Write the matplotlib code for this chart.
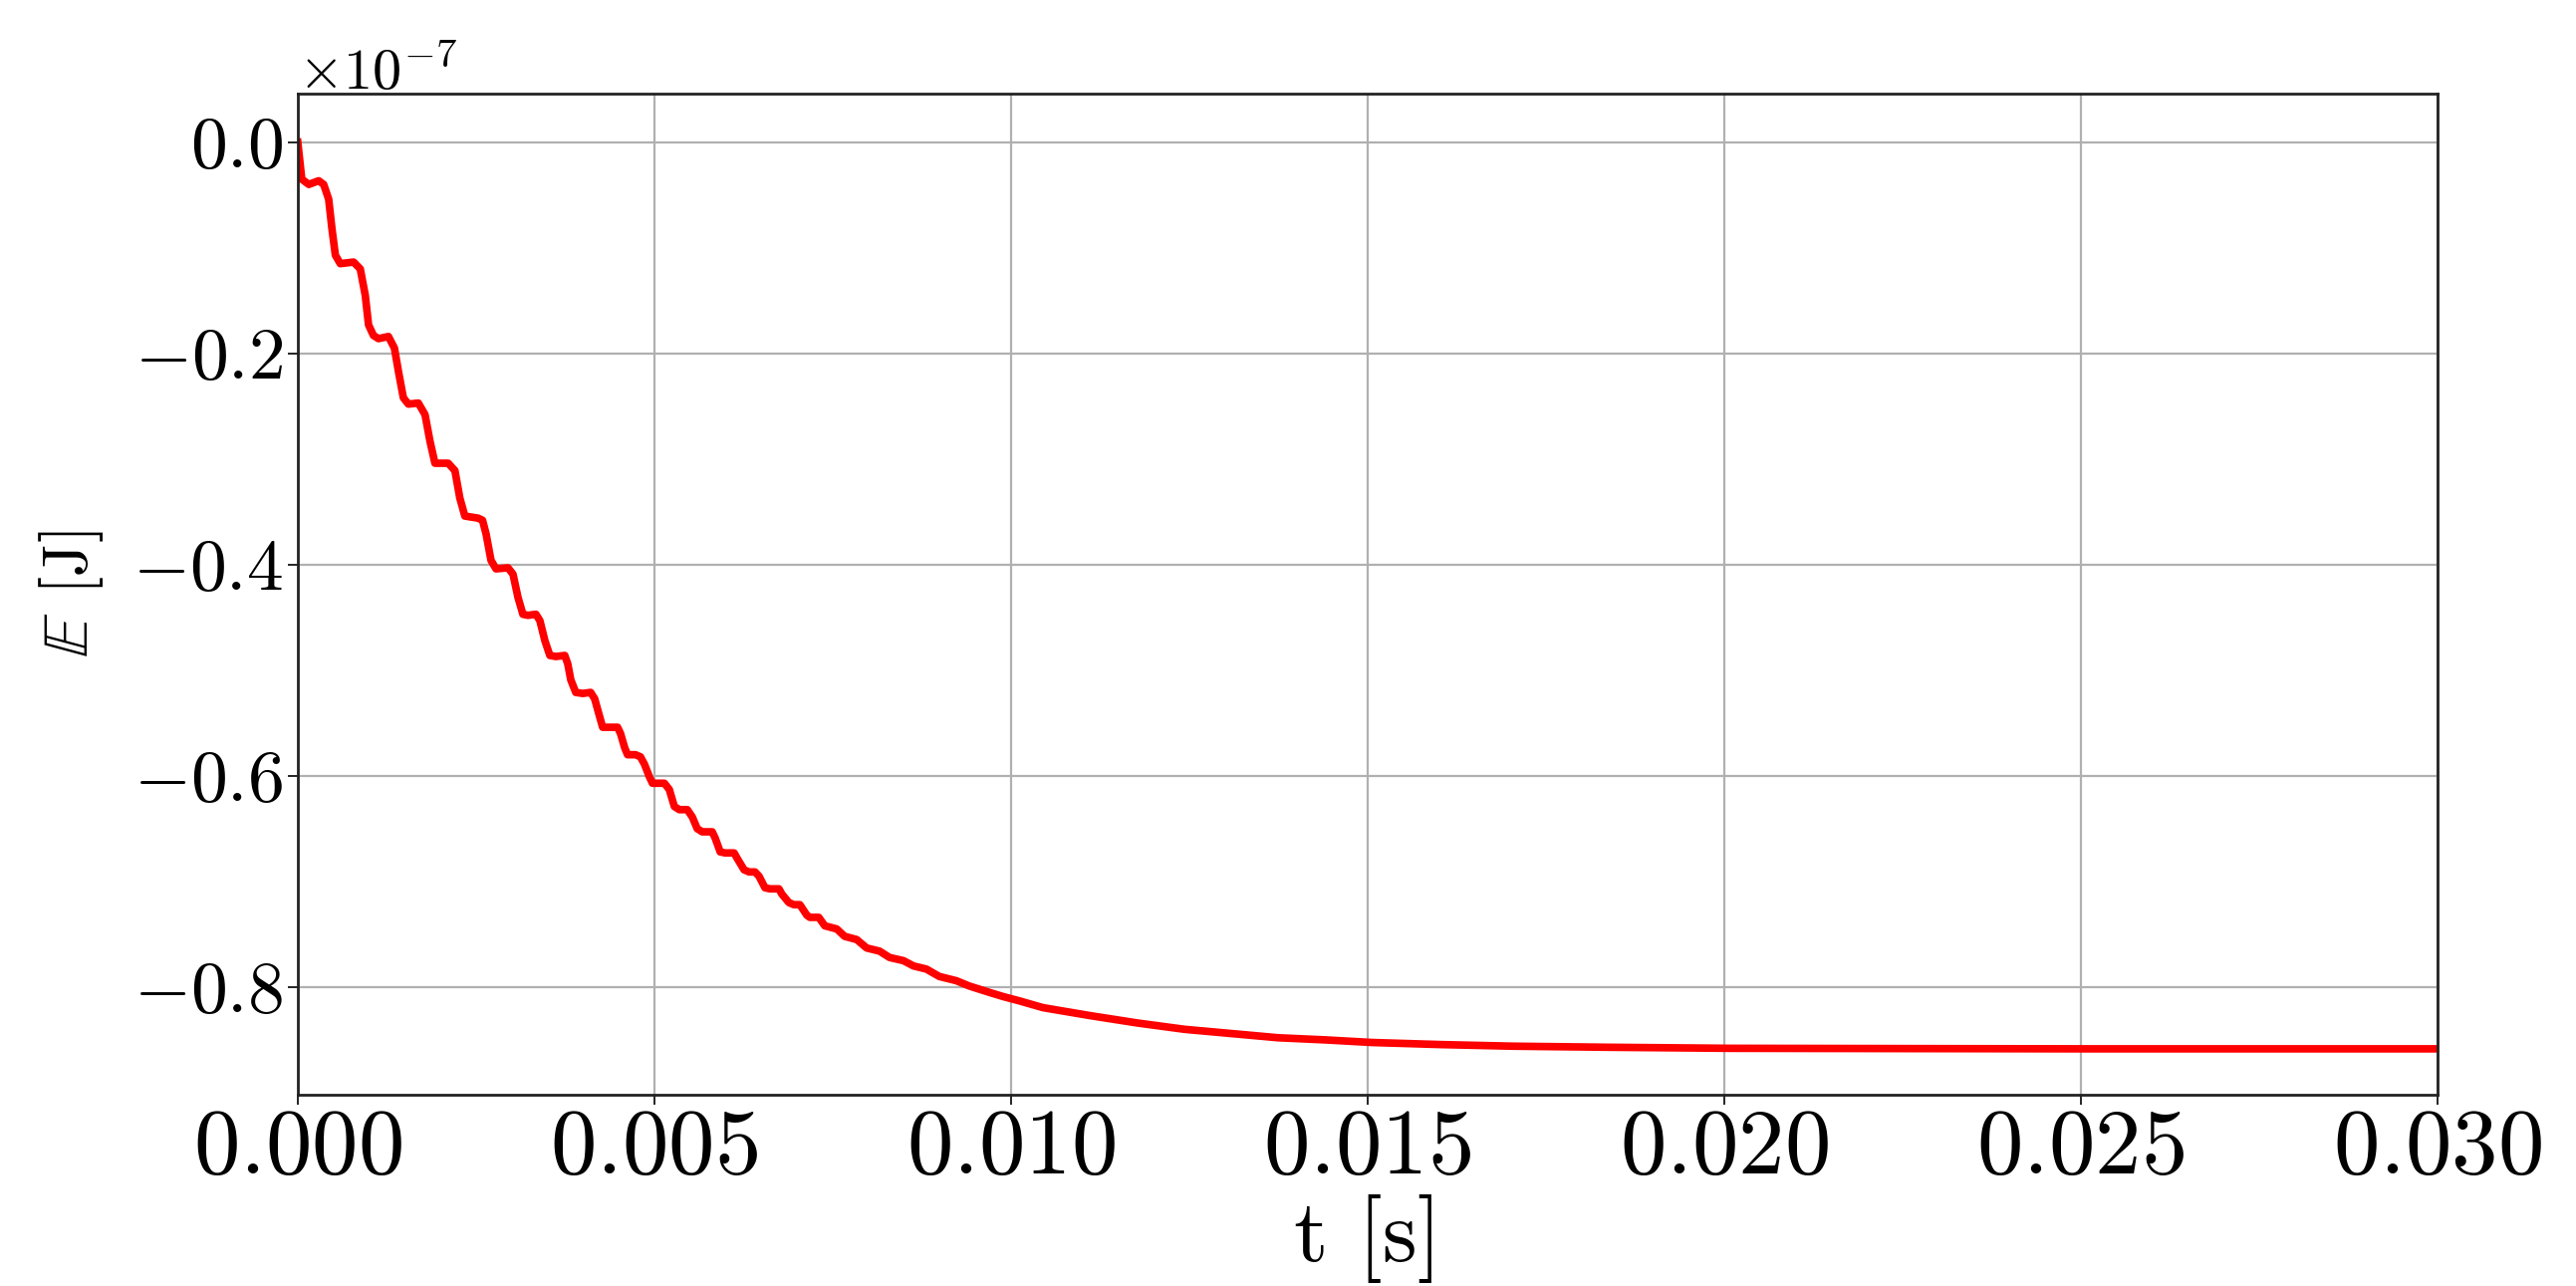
import numpy as np
import matplotlib
matplotlib.use("Agg")
import matplotlib.pyplot as plt
from matplotlib.ticker import MultipleLocator

plt.rcParams['font.family'] = 'cmr10'
plt.rcParams['mathtext.fontset'] = 'cm'
plt.rcParams['axes.formatter.use_mathtext'] = True
plt.rcParams['axes.unicode_minus'] = True

# time [s] and energy [1e-7 J]
t_vals = [0.0, 0.0000559, 0.000154, 0.000293, 0.000363, 0.000433, 0.000479, 0.000527,
          0.000596, 0.000782, 0.000876, 0.000946, 0.000992, 0.001061, 0.001131, 0.001271,
          0.001355, 0.001411, 0.001480, 0.001550, 0.001690, 0.001784, 0.001853, 0.001923,
          0.002109, 0.002203, 0.002272, 0.002342, 0.002528, 0.002590, 0.002640, 0.002709,
          0.002779, 0.002947, 0.003017, 0.003087, 0.003156, 0.003226, 0.003338, 0.003394,
          0.003464, 0.003534, 0.003617, 0.003743, 0.003785, 0.003827, 0.003897, 0.003994,
          0.004106, 0.004162, 0.004232, 0.004274, 0.004385, 0.004483, 0.004525, 0.004581,
          0.004623, 0.004735, 0.004804, 0.004860, 0.004930, 0.004972, 0.005140, 0.005209,
          0.005279, 0.005349, 0.005461, 0.005531, 0.005600, 0.005670, 0.005810, 0.005852,
          0.005922, 0.005991, 0.006117, 0.006159, 0.006257, 0.006327, 0.006410, 0.006466,
          0.006550, 0.006620, 0.006745, 0.006787, 0.006885, 0.006955, 0.007039, 0.007137,
          0.007179, 0.007304, 0.007388, 0.007556, 0.007667, 0.007835, 0.007975, 0.008156,
          0.008296, 0.008491, 0.008631, 0.008813, 0.008994, 0.009232, 0.009413, 0.009693,
          0.009888, 0.010112, 0.010447, 0.011103, 0.011768, 0.012430, 0.013086, 0.013743,
          0.014399, 0.015063, 0.016047, 0.017039, 0.018358, 0.020070, 0.025000, 0.030000]
e_vals = [0.0, -0.035, -0.040, -0.0365, -0.040, -0.054, -0.082, -0.107,
          -0.115, -0.1135, -0.120, -0.145, -0.173, -0.183, -0.186, -0.184,
          -0.195, -0.217, -0.242, -0.248, -0.247, -0.258, -0.283, -0.304,
          -0.304, -0.311, -0.337, -0.354, -0.356, -0.358, -0.371, -0.396,
          -0.404, -0.403, -0.409, -0.431, -0.447, -0.448, -0.447, -0.453,
          -0.472, -0.486, -0.487, -0.486, -0.494, -0.509, -0.521, -0.522,
          -0.521, -0.527, -0.544, -0.554, -0.554, -0.554, -0.560, -0.573,
          -0.580, -0.580, -0.582, -0.589, -0.601, -0.607, -0.607, -0.613,
          -0.629, -0.632, -0.632, -0.639, -0.650, -0.653, -0.653, -0.659,
          -0.672, -0.673, -0.673, -0.678, -0.689, -0.691, -0.691, -0.695,
          -0.706, -0.707, -0.707, -0.712, -0.720, -0.722, -0.722, -0.732,
          -0.734, -0.734, -0.742, -0.745, -0.752, -0.755, -0.763, -0.766,
          -0.772, -0.775, -0.780, -0.783, -0.790, -0.794, -0.799, -0.805,
          -0.809, -0.813, -0.8195, -0.827, -0.834, -0.840, -0.844, -0.848,
          -0.850, -0.8525, -0.8545, -0.856, -0.857, -0.858, -0.8585, -0.8585]

t = np.array(t_vals)
E = np.array(e_vals) * 1e-7

fig = plt.figure(figsize=(25.86, 12.91), dpi=100)
ax = fig.add_axes([0.1156, 0.1487, 0.8307, 0.7785])

ax.plot(t, E, color='red', lw=5.5)

ax.set_xlim(0, 0.03)
ax.set_ylim(-0.902e-7, 0.046e-7)
ax.xaxis.set_major_locator(MultipleLocator(0.005))
ax.yaxis.set_major_locator(MultipleLocator(0.2e-7))
ax.ticklabel_format(axis='y', style='sci', scilimits=(-7, -7))
ax.grid(True, color='#b0b0b0', lw=1.6)

ax.tick_params(width=1.2, length=7)
ax.tick_params(axis='x', labelsize=67)
ax.tick_params(axis='y', labelsize=53)
for s in ax.spines.values():
    s.set_linewidth(2)
    s.set_color('#222222')

ax.yaxis.get_offset_text().set_fontsize(42)
ax.set_xlabel('t [s]', fontsize=64, labelpad=2)
ax.set_ylabel(r'$\mathbb{E}$ [J]', fontsize=47, labelpad=20)

fig.savefig('out.png', dpi=100)
